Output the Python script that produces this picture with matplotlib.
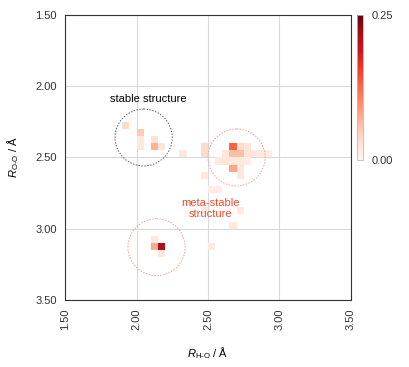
import matplotlib.pyplot as plt
import numpy as np
from matplotlib.patches import Circle

plt.rcParams['font.family'] = ['Liberation Sans', 'DejaVu Sans']
plt.rcParams['mathtext.fontset'] = 'custom'
plt.rcParams['mathtext.it'] = 'Liberation Sans:italic'
plt.rcParams['mathtext.rm'] = 'Liberation Sans'

# bin lower edges (R_H-O, R_O-O) and probabilities
hx = [2.15, 2.10, 2.10, 2.15,
      1.90, 2.00, 2.00, 2.00, 2.10, 2.10, 2.15, 2.30,
      2.65, 2.70, 2.75, 2.45,
      2.45, 2.60, 2.65, 2.70, 2.75, 2.80, 2.85, 2.90,
      2.55, 2.60, 2.65, 2.70, 2.75,
      2.65, 2.70, 2.70, 2.45,
      2.50, 2.55, 2.45, 2.70, 2.65, 2.50]
hy = [3.10, 3.10, 3.05, 3.15,
      2.25, 2.30, 2.35, 2.40, 2.35, 2.40, 2.40, 2.45,
      2.40, 2.40, 2.40, 2.40,
      2.45, 2.45, 2.45, 2.45, 2.45, 2.45, 2.45, 2.45,
      2.50, 2.50, 2.50, 2.50, 2.50,
      2.55, 2.55, 2.60, 2.60,
      2.70, 2.70, 2.85, 2.85, 2.95, 3.10]
hv = [0.21, 0.075, 0.02, 0.02,
      0.035, 0.05, 0.02, 0.02, 0.025, 0.07, 0.025, 0.02,
      0.13, 0.035, 0.025, 0.035,
      0.035, 0.02, 0.06, 0.06, 0.025, 0.02, 0.018, 0.012,
      0.018, 0.025, 0.018, 0.018, 0.012,
      0.08, 0.02, 0.02, 0.018,
      0.012, 0.012, 0.018, 0.018, 0.018, 0.018]

edges = np.arange(1.5, 3.5001, 0.05)
grid = np.zeros((len(edges) - 1, len(edges) - 1))
for x, y, v in zip(hx, hy, hv):
    i = int(round((y - 1.5) / 0.05))
    j = int(round((x - 1.5) / 0.05))
    grid[i, j] = v
grid = np.ma.masked_equal(grid, 0)

fig = plt.figure(figsize=(4.09, 3.67), dpi=100)
ax = fig.add_axes([0.159, 0.183, 0.699, 0.776])
cax = fig.add_axes([0.873, 0.564, 0.0147, 0.395])

mesh = ax.pcolormesh(edges, edges, grid, cmap='Reds', vmin=0, vmax=0.25)

ax.add_patch(Circle((2.05, 2.36), 0.2, fill=False, ec='#606060', lw=0.7, ls=(0, (1.5, 1.5))))
ax.add_patch(Circle((2.70, 2.50), 0.2, fill=False, ec='#f4a090', lw=0.7, ls=(0, (1.5, 1.5))))
ax.add_patch(Circle((2.14, 3.13), 0.2, fill=False, ec='#f4a090', lw=0.7, ls=(0, (1.5, 1.5))))

ax.text(2.08, 2.09, 'stable structure', ha='center', va='center', fontsize=8, color='black')
ax.text(2.52, 2.86, 'meta-stable\nstructure', ha='center', va='center', fontsize=8,
        color='#ee4b30', linespacing=1.15)

ax.set_xlim(1.5, 3.5)
ax.set_ylim(3.5, 1.5)
ticks = [1.5, 2.0, 2.5, 3.0, 3.5]
ax.set_xticks(ticks)
ax.set_yticks(ticks)
ax.set_xticklabels(['%.2f' % t for t in ticks], rotation=90)
ax.set_yticklabels(['%.2f' % t for t in ticks])
ax.tick_params(length=0, labelsize=8, colors='#333333', pad=6)
ax.grid(color='#d9d9d9', lw=0.8)
ax.set_axisbelow(True)
for s in ax.spines.values():
    s.set_color('#333333')
    s.set_linewidth(0.8)
ax.set_xlabel(r'$R_{\mathrm{H\text{-}O}}$ / Å', fontsize=8, labelpad=11)
ax.set_ylabel(r'$R_{\mathrm{O\text{-}O}}$ / Å', fontsize=8, labelpad=10)

cb = fig.colorbar(mesh, cax=cax, ticks=[0, 0.25])
cb.ax.set_yticklabels(['0.00', '0.25'])
cb.ax.tick_params(length=0, labelsize=8, pad=6, colors='#333333')
cb.outline.set_edgecolor('#bbbbbb')
cb.outline.set_linewidth(0.6)

fig.savefig('out.png', dpi=100)
